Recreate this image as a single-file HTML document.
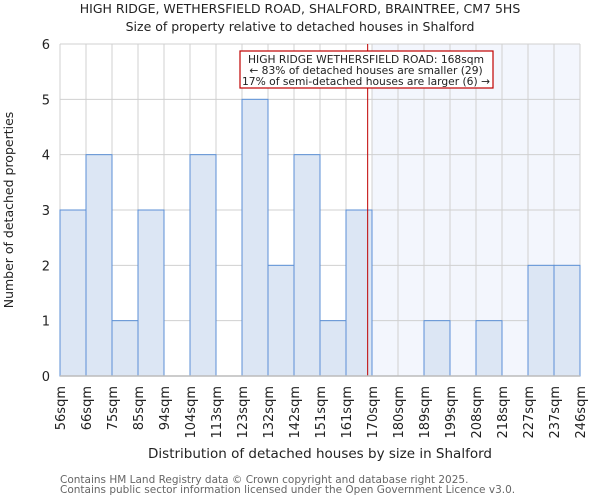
<!DOCTYPE html>
<html><head><meta charset="utf-8"><style>
body{margin:0;background:#fff;font-family:"DejaVu Sans","Liberation Sans",sans-serif;}
svg text{font-family:"DejaVu Sans","Liberation Sans",sans-serif;}
</style></head><body>
<svg id="c" width="600" height="500" xmlns="http://www.w3.org/2000/svg">
<text x="300" y="13" font-size="12.5" text-anchor="middle" fill="#222">HIGH RIDGE, WETHERSFIELD ROAD, SHALFORD, BRAINTREE, CM7 5HS</text>
<text x="300" y="31" font-size="12.5" text-anchor="middle" fill="#222">Size of property relative to detached houses in Shalford</text>
<g id="plot"></g>
<text x="320" y="458" font-size="13.5" text-anchor="middle" fill="#222">Distribution of detached houses by size in Shalford</text>
<text transform="translate(13,210) rotate(-90)" font-size="12.5" text-anchor="middle" fill="#222">Number of detached properties</text>
<text x="60" y="483" font-size="10.5" fill="#666">Contains HM Land Registry data © Crown copyright and database right 2025.</text>
<text x="60" y="493" font-size="10.5" fill="#666">Contains public sector information licensed under the Open Government Licence v3.0.</text>
</svg>
<script>
const edgeLabels=[56,66,75,85,94,104,113,123,132,142,151,161,170,180,189,199,208,218,227,237,246];
const counts=[3,4,1,3,0,4,0,5,2,4,1,3,0,0,1,0,1,0,2,2];
const yTicks=[0,1,2,3,4,5,6];
const subjectSize=168.5;
const shadeFromSize=170;
const NS="http://www.w3.org/2000/svg";
const X0=60,X1=580,Y0=376,Y1=44,YMAX=6;
const bw=(X1-X0)/counts.length;
const xi=i=>X0+i*bw;
function xs(v){for(let i=0;i<edgeLabels.length-1;i++){if(v<=edgeLabels[i+1])return xi(i)+bw*(v-edgeLabels[i])/(edgeLabels[i+1]-edgeLabels[i]);}return X1;}
const y=v=>Y0-(Y0-Y1)*v/YMAX;
const g=document.getElementById('plot');
function mk(t,a){const e=document.createElementNS(NS,t);for(const k in a)e.setAttribute(k,a[k]);g.appendChild(e);return e;}
let e;
e=mk('rect',{x:xs(shadeFromSize),y:Y1,width:X1-xs(shadeFromSize),height:Y0-Y1,fill:'#f3f6fd'});


for(let i=0;i<edgeLabels.length;i++){
 e=mk('line',{x1:xi(i),x2:xi(i),y1:Y1,y2:Y0,stroke:'#d0d0d0','stroke-width':1});
 
 
}
yTicks.forEach(t=>{
 e=mk('line',{x1:X0,x2:X1,y1:y(t),y2:y(t),stroke:'#d0d0d0','stroke-width':1});
 
 
 e=mk('text',{x:X0-10,y:y(t)+5,'font-size':13,'text-anchor':'end',fill:'#222'});e.textContent=t;
 
 
});
counts.forEach((c,i)=>{if(c>0){
 e=mk('rect',{x:xi(i),y:y(c),width:bw,height:Y0-y(c),fill:'#dce6f4',stroke:'#5b8fd6','stroke-width':1});
 
 
}});
edgeLabels.forEach((l,i)=>{
 e=mk('text',{transform:`translate(${xi(i)+5},386) rotate(-90)`,'font-size':13,'text-anchor':'end',fill:'#222'});e.textContent=l+'sqm';
 
 
});
const sx=xs(subjectSize);
e=mk('line',{x1:sx,x2:sx,y1:Y1,y2:Y0,stroke:'#c00000','stroke-width':1});


e=mk('rect',{x:240,y:51,width:253,height:37,fill:'#fff',stroke:'#c00000','stroke-width':1.2});


['HIGH RIDGE WETHERSFIELD ROAD: 168sqm','← 83% of detached houses are smaller (29)','17% of semi-detached houses are larger (6) →'].forEach((t,k)=>{
 e=mk('text',{x:366,y:63+k*11,'font-size':10.7,'text-anchor':'middle',fill:'#222'});e.textContent=t;
 
 
});
e=mk('line',{x1:X0,x2:X1,y1:Y0,y2:Y0,stroke:'#bbb','stroke-width':1.5});


</script>
</body></html>
